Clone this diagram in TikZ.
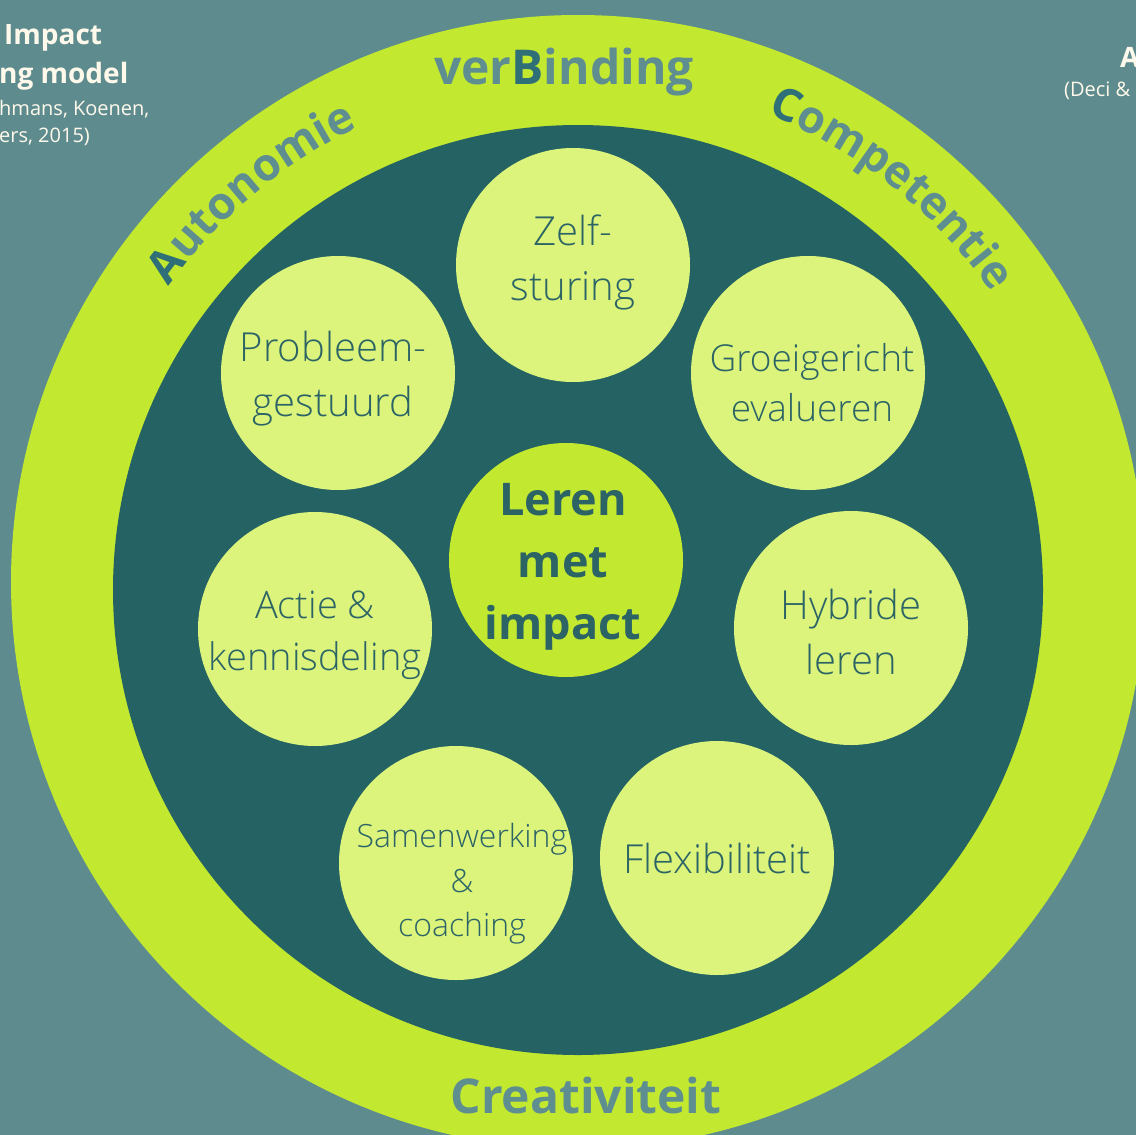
\documentclass[tikz,border=0pt]{standalone}
\usepackage{fontspec}
\setmainfont{Open Sans}
\newfontfamily\lightfont{Open Sans Light}
\usepackage{tikz}
\usetikzlibrary{decorations.text}
\definecolor{achtergrond}{HTML}{5E8C8E}
\definecolor{ring}{HTML}{C2E830}
\definecolor{binnen}{HTML}{246264}
\definecolor{bol}{HTML}{DCF47C}
\definecolor{tekst}{HTML}{2C6466}
\definecolor{ringtekst}{HTML}{5F8E90}
\definecolor{hoofdletter}{HTML}{2F6F77}
\definecolor{titel}{HTML}{FFF9EC}
\newcommand{\ringfont}{\bfseries\fontsize{48}{58}\selectfont}
\newcommand{\boogfont}{\bfseries\fontsize{45}{54}\selectfont}

\begin{document}
\begin{tikzpicture}[x=1pt,y=1pt,
  bolletje/.style={circle,fill=bol,minimum size=234pt,inner sep=0pt},
  lbl/.style 2 args={text=tekst,align=center,font=\lightfont\fontsize{#1}{#2}\selectfont},
  titeltekst/.style={text=titel,anchor=base west,inner sep=0pt}]
\useasboundingbox (0,0) rectangle (1136,-1135);
\clip (0,0) rectangle (1136,-1135);
\fill[achtergrond] (0,0) rectangle (1136,-1135);
% ringen
\fill[ring] (578,-582) circle[radius=567];
\fill[binnen] (578,-590) circle[radius=465];
% woorden in de ring
\path[decorate,decoration={text along path,text align=center,
  text={|\boogfont\color{hoofdletter}|A|\boogfont\color{ringtekst}|utonomie}}]
  (578,-582) ++(155:505) arc[start angle=155,end angle=105,radius=505];
\path[decorate,decoration={text along path,text align=center,
  text={|\boogfont\color{hoofdletter}|C|\boogfont\color{ringtekst}|ompetentie}}]
  (578,-582) ++(79.5:505) arc[start angle=79.5,end angle=23.5,radius=505];
\node[anchor=base,text=ringtekst,font=\ringfont] (verbinding) at (564,-84) {ver\textcolor{hoofdletter}{B}inding};
\node[anchor=base,text=ringtekst,font=\ringfont] (creativiteit) at (586,-1113) {Creativiteit};
% bollen
\node[bolletje] (zelf) at (573,-265) {};
\node[bolletje] (probleem) at (338,-373) {};
\node[bolletje] (groei) at (808,-373) {};
\node[bolletje] (actie) at (315,-629) {};
\node[bolletje] (hybride) at (851,-628) {};
\node[bolletje] (samen) at (456,-863) {};
\node[bolletje] (flex) at (717,-858) {};
\node[bolletje,fill=ring] (kern) at (566,-560) {};
\node[lbl={40}{55}] (zelftxt) at (573,-262) {Zelf-\\sturing};
\node[lbl={40}{55}] (probleemtxt) at (333,-379) {Probleem-\\gestuurd};
\node[lbl={37}{50}] (groeitxt) at (812,-383) {Groeigericht\\evalueren};
\node[lbl={38}{52}] (actietxt) at (315,-635.5) {Actie \&\\kennisdeling};
\node[lbl={40}{55}] (hybridetxt) at (851,-631.5) {Hybride\\leren};
\node[lbl={32}{44.5}] (samentxt) at (462,-884) {Samenwerking\\\&\\coaching};
\node[lbl={40}{55}] (flextxt) at (717,-858) {Flexibiliteit};
\node[text=tekst,align=center,font=\bfseries\fontsize{45}{62}\selectfont] (kerntxt) at (563,-566.5) {Leren\\met\\impact};
% titels
\node[titeltekst,font=\bfseries\fontsize{28}{34}\selectfont] (titel1) at (4,-45) {Impact};
\node[titeltekst,font=\bfseries\fontsize{28}{34}\selectfont] (titel2) at (-1,-83) {ng model};
\node[titeltekst,font=\fontsize{20}{26}\selectfont] (bron1) at (-1,-115) {hmans, Koenen,};
\node[titeltekst,font=\fontsize{20}{26}\selectfont] (bron2) at (-1,-142) {ers, 2015)};
\node[titeltekst,font=\bfseries\fontsize{28}{34}\selectfont] (titel3) at (1120,-67) {A};
\node[titeltekst,font=\fontsize{20}{26}\selectfont] (bron3) at (1064,-96) {(Deci \&};
\end{tikzpicture}
\end{document}
